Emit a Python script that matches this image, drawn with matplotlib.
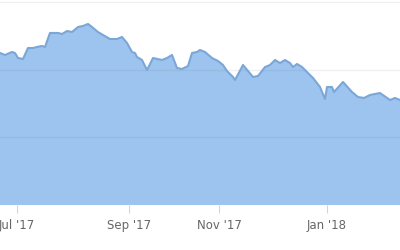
import matplotlib
matplotlib.use("Agg")
import matplotlib.pyplot as plt

# Data (session index, value)
session = [0, 5, 12, 15, 18, 23, 28, 33, 37, 42, 45, 50, 58, 62, 67, 72, 78, 83, 88, 92,
           98, 103, 110, 117, 122, 127, 132, 135, 137, 142, 147, 153, 162, 167, 172, 177,
           182, 188, 192, 197, 200, 205, 212, 218, 223, 227, 233, 235, 243, 253, 258, 265,
           270, 275, 280, 285, 290, 293, 297, 302, 313, 320, 325, 327, 332, 334, 343, 352,
           358, 364, 370, 380, 390, 395, 400]
value = [224.5, 221.6, 226.0, 224.5, 217.1, 215.7, 231.9, 231.9, 233.4, 234.9, 233.4,
         254.1, 254.1, 252.6, 257.0, 255.5, 262.9, 264.4, 267.4, 262.9, 255.5, 251.1,
         245.2, 245.2, 248.2, 239.3, 226.0, 224.5, 218.6, 214.2, 199.4, 217.1, 214.2,
         217.1, 221.6, 202.4, 200.9, 205.3, 224.5, 226.0, 229.0, 226.0, 217.1, 212.7,
         206.8, 197.9, 189.1, 184.6, 206.8, 189.1, 190.5, 203.8, 206.8, 214.2, 209.7,
         214.2, 209.7, 203.8, 208.3, 203.8, 187.6, 174.3, 156.6, 174.3, 174.3, 166.9,
         181.7, 166.9, 159.5, 158.1, 162.5, 165.4, 155.1, 158.1, 155.1]
tick_pos = [17, 129, 219, 327]
tick_labels = ["Jul '17", "Sep '17", "Nov '17", "Jan '18"]
grid_vals = [100, 200, 300]

fig = plt.figure(figsize=(4, 2.5), dpi=100)
ax = fig.add_axes([0, 0.18, 1, 0.82])
ax.set_xlim(0, 400)
ax.set_ylim(0, 302.8)

ax.fill_between(session, value, 0, color="#9cc4ee", zorder=2, lw=0)
for g in grid_vals:
    ax.axhline(g, color="#707070", alpha=0.11, lw=1, zorder=2.5)
ax.plot(session, value, color="#7ba7d8", lw=1.5, zorder=3)

for s in ax.spines.values():
    s.set_visible(False)
ax.set_yticks([])
ax.set_xticks(tick_pos)
ax.set_xticklabels(tick_labels)
ax.tick_params(axis="x", length=6, width=0.8, color="#ccd6eb", pad=4,
               labelsize=8.5, labelcolor="#666666")

fig.savefig("out.png", dpi=100)
